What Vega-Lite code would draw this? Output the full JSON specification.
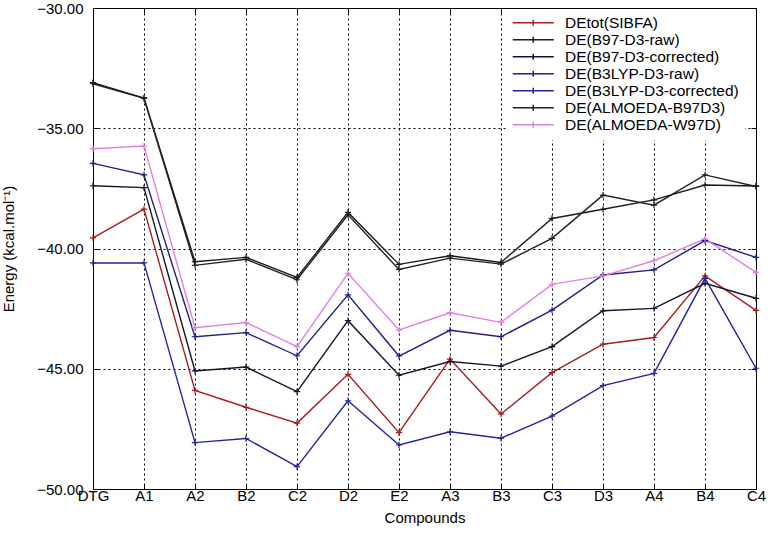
{
  "$schema": "https://vega.github.io/schema/vega-lite/v6.json",
  "width": 663,
  "height": 481,
  "autosize": {"type": "none"},
  "padding": {"left": 93, "top": 8, "right": 12, "bottom": 49},
  "background": "white",
  "config": {
    "font": "Liberation Sans",
    "view": {"stroke": "black", "strokeWidth": 1},
    "axis": {"labelFont": "Liberation Sans", "titleFont": "Liberation Sans", "labelColor": "black", "titleColor": "black", "domainColor": "black", "tickColor": "black", "titleFontWeight": "normal", "labelFontSize": 15, "titleFontSize": 15}
  },
  "data": {"values": [
    {"c":"DTG","s":"DEtot(SIBFA)","v":-39.56},
    {"c":"A1","s":"DEtot(SIBFA)","v":-38.36},
    {"c":"A2","s":"DEtot(SIBFA)","v":-45.9},
    {"c":"B2","s":"DEtot(SIBFA)","v":-46.6},
    {"c":"C2","s":"DEtot(SIBFA)","v":-47.26},
    {"c":"D2","s":"DEtot(SIBFA)","v":-45.23},
    {"c":"E2","s":"DEtot(SIBFA)","v":-47.66},
    {"c":"A3","s":"DEtot(SIBFA)","v":-44.6},
    {"c":"B3","s":"DEtot(SIBFA)","v":-46.88},
    {"c":"C3","s":"DEtot(SIBFA)","v":-45.16},
    {"c":"D3","s":"DEtot(SIBFA)","v":-43.98},
    {"c":"A4","s":"DEtot(SIBFA)","v":-43.7},
    {"c":"B4","s":"DEtot(SIBFA)","v":-41.14},
    {"c":"C4","s":"DEtot(SIBFA)","v":-42.57},

    {"c":"DTG","s":"DE(B97-D3-raw)","v":-33.1},
    {"c":"A1","s":"DE(B97-D3-raw)","v":-33.74},
    {"c":"A2","s":"DE(B97-D3-raw)","v":-40.55},
    {"c":"B2","s":"DE(B97-D3-raw)","v":-40.37},
    {"c":"C2","s":"DE(B97-D3-raw)","v":-41.2},
    {"c":"D2","s":"DE(B97-D3-raw)","v":-38.5},
    {"c":"E2","s":"DE(B97-D3-raw)","v":-40.66},
    {"c":"A3","s":"DE(B97-D3-raw)","v":-40.3},
    {"c":"B3","s":"DE(B97-D3-raw)","v":-40.58},
    {"c":"C3","s":"DE(B97-D3-raw)","v":-38.75},
    {"c":"D3","s":"DE(B97-D3-raw)","v":-38.37},
    {"c":"A4","s":"DE(B97-D3-raw)","v":-37.98},
    {"c":"B4","s":"DE(B97-D3-raw)","v":-37.36},
    {"c":"C4","s":"DE(B97-D3-raw)","v":-37.4},

    {"c":"DTG","s":"DE(B97-D3-corrected)","v":-37.39},
    {"c":"A1","s":"DE(B97-D3-corrected)","v":-37.47},
    {"c":"A2","s":"DE(B97-D3-corrected)","v":-45.09},
    {"c":"B2","s":"DE(B97-D3-corrected)","v":-44.93},
    {"c":"C2","s":"DE(B97-D3-corrected)","v":-45.95},
    {"c":"D2","s":"DE(B97-D3-corrected)","v":-43.0},
    {"c":"E2","s":"DE(B97-D3-corrected)","v":-45.27},
    {"c":"A3","s":"DE(B97-D3-corrected)","v":-44.7},
    {"c":"B3","s":"DE(B97-D3-corrected)","v":-44.89},
    {"c":"C3","s":"DE(B97-D3-corrected)","v":-44.08},
    {"c":"D3","s":"DE(B97-D3-corrected)","v":-42.59},
    {"c":"A4","s":"DE(B97-D3-corrected)","v":-42.49},
    {"c":"B4","s":"DE(B97-D3-corrected)","v":-41.45},
    {"c":"C4","s":"DE(B97-D3-corrected)","v":-42.07},

    {"c":"DTG","s":"DE(B3LYP-D3-raw)","v":-36.46},
    {"c":"A1","s":"DE(B3LYP-D3-raw)","v":-36.94},
    {"c":"A2","s":"DE(B3LYP-D3-raw)","v":-43.67},
    {"c":"B2","s":"DE(B3LYP-D3-raw)","v":-43.5},
    {"c":"C2","s":"DE(B3LYP-D3-raw)","v":-44.46},
    {"c":"D2","s":"DE(B3LYP-D3-raw)","v":-41.93},
    {"c":"E2","s":"DE(B3LYP-D3-raw)","v":-44.47},
    {"c":"A3","s":"DE(B3LYP-D3-raw)","v":-43.4},
    {"c":"B3","s":"DE(B3LYP-D3-raw)","v":-43.67},
    {"c":"C3","s":"DE(B3LYP-D3-raw)","v":-42.56},
    {"c":"D3","s":"DE(B3LYP-D3-raw)","v":-41.1},
    {"c":"A4","s":"DE(B3LYP-D3-raw)","v":-40.89},
    {"c":"B4","s":"DE(B3LYP-D3-raw)","v":-39.67},
    {"c":"C4","s":"DE(B3LYP-D3-raw)","v":-40.37},

    {"c":"DTG","s":"DE(B3LYP-D3-corrected)","v":-40.6},
    {"c":"A1","s":"DE(B3LYP-D3-corrected)","v":-40.6},
    {"c":"A2","s":"DE(B3LYP-D3-corrected)","v":-48.07},
    {"c":"B2","s":"DE(B3LYP-D3-corrected)","v":-47.9},
    {"c":"C2","s":"DE(B3LYP-D3-corrected)","v":-49.07},
    {"c":"D2","s":"DE(B3LYP-D3-corrected)","v":-46.33},
    {"c":"E2","s":"DE(B3LYP-D3-corrected)","v":-48.17},
    {"c":"A3","s":"DE(B3LYP-D3-corrected)","v":-47.62},
    {"c":"B3","s":"DE(B3LYP-D3-corrected)","v":-47.89},
    {"c":"C3","s":"DE(B3LYP-D3-corrected)","v":-46.97},
    {"c":"D3","s":"DE(B3LYP-D3-corrected)","v":-45.7},
    {"c":"A4","s":"DE(B3LYP-D3-corrected)","v":-45.19},
    {"c":"B4","s":"DE(B3LYP-D3-corrected)","v":-41.24},
    {"c":"C4","s":"DE(B3LYP-D3-corrected)","v":-44.98},

    {"c":"DTG","s":"DE(ALMOEDA-B97D3)","v":-33.15},
    {"c":"A1","s":"DE(ALMOEDA-B97D3)","v":-33.76},
    {"c":"A2","s":"DE(ALMOEDA-B97D3)","v":-40.7},
    {"c":"B2","s":"DE(ALMOEDA-B97D3)","v":-40.45},
    {"c":"C2","s":"DE(ALMOEDA-B97D3)","v":-41.3},
    {"c":"D2","s":"DE(ALMOEDA-B97D3)","v":-38.6},
    {"c":"E2","s":"DE(ALMOEDA-B97D3)","v":-40.87},
    {"c":"A3","s":"DE(ALMOEDA-B97D3)","v":-40.4},
    {"c":"B3","s":"DE(ALMOEDA-B97D3)","v":-40.65},
    {"c":"C3","s":"DE(ALMOEDA-B97D3)","v":-39.58},
    {"c":"D3","s":"DE(ALMOEDA-B97D3)","v":-37.78},
    {"c":"A4","s":"DE(ALMOEDA-B97D3)","v":-38.2},
    {"c":"B4","s":"DE(ALMOEDA-B97D3)","v":-36.94},
    {"c":"C4","s":"DE(ALMOEDA-B97D3)","v":-37.42},

    {"c":"DTG","s":"DE(ALMOEDA-W97D)","v":-35.85},
    {"c":"A1","s":"DE(ALMOEDA-W97D)","v":-35.74},
    {"c":"A2","s":"DE(ALMOEDA-W97D)","v":-43.29},
    {"c":"B2","s":"DE(ALMOEDA-W97D)","v":-43.08},
    {"c":"C2","s":"DE(ALMOEDA-W97D)","v":-44.08},
    {"c":"D2","s":"DE(ALMOEDA-W97D)","v":-41.03},
    {"c":"E2","s":"DE(ALMOEDA-W97D)","v":-43.39},
    {"c":"A3","s":"DE(ALMOEDA-W97D)","v":-42.67},
    {"c":"B3","s":"DE(ALMOEDA-W97D)","v":-43.07},
    {"c":"C3","s":"DE(ALMOEDA-W97D)","v":-41.49},
    {"c":"D3","s":"DE(ALMOEDA-W97D)","v":-41.14},
    {"c":"A4","s":"DE(ALMOEDA-W97D)","v":-40.51},
    {"c":"B4","s":"DE(ALMOEDA-W97D)","v":-39.6},
    {"c":"C4","s":"DE(ALMOEDA-W97D)","v":-40.99}
  ]},
  "layer": [
    {
      "mark": {"type": "line", "opacity": 0},
      "encoding": {
        "x": {"field": "c", "type": "ordinal", "sort": null, "scale": {"type": "point", "padding": 0},
          "axis": {"orient": "top", "labels": false, "title": null, "grid": false, "domain": false, "tickSize": -5}},
        "y": {"field": "v", "type": "quantitative", "scale": {"domain": [-50, -30], "nice": false, "zero": false},
          "axis": {"orient": "right", "labels": false, "title": null, "grid": false, "domain": false, "tickSize": -5, "values": [-50, -45, -40, -35, -30]}}
      }
    },
    {
      "mark": {"type": "line", "strokeWidth": 1.4, "point": {"filled": false, "shape": "M-1,0H1M0,-1V1", "size": 40, "strokeWidth": 1.2}},
      "encoding": {
        "x": {
          "field": "c", "type": "ordinal", "sort": null,
          "scale": {"type": "point", "padding": 0},
          "axis": {"orient": "bottom", "title": "Compounds", "labelAngle": 0, "grid": true, "gridColor": "black", "gridDash": [2, 3], "gridOpacity": 1, "tickSize": -5, "labelPadding": 4, "titlePadding": 7, "domain": false}
        },
        "y": {
          "field": "v", "type": "quantitative",
          "scale": {"domain": [-50, -30], "nice": false, "zero": false},
          "axis": {"orient": "left", "title": "Energy (kcal.mol⁻¹)", "values": [-50, -45, -40, -35, -30], "format": ".2f", "grid": true, "gridColor": "black", "gridDash": [2, 3], "gridOpacity": 1, "tickSize": -5, "labelPadding": 15, "titlePadding": 20, "domain": false}
        },
        "color": {
          "field": "s", "type": "nominal", "sort": null,
          "scale": {
            "domain": ["DEtot(SIBFA)", "DE(B97-D3-raw)", "DE(B97-D3-corrected)", "DE(B3LYP-D3-raw)", "DE(B3LYP-D3-corrected)", "DE(ALMOEDA-B97D3)", "DE(ALMOEDA-W97D)"],
            "range": ["#a81e1e", "#1a1a2a", "#141430", "#1e1e88", "#24249a", "#222222", "#e080e0"]
          },
          "legend": {
            "title": null, "orient": "none", "legendX": 413, "legendY": 1, "fillColor": "white",
            "labelFont": "Liberation Sans", "labelFontSize": 15.5, "labelColor": "black", "labelLimit": 300,
            "symbolType": "M-3.35,0H3.35M0,-0.5V0.5", "symbolSize": 150, "symbolStrokeWidth": 1.5,
            "symbolOffset": 13.5, "labelOffset": 24,
            "rowPadding": 0, "padding": 6
          }
        }
      }
    }
  ],
  "resolve": {"axis": {"x": "independent", "y": "independent"}}
}
